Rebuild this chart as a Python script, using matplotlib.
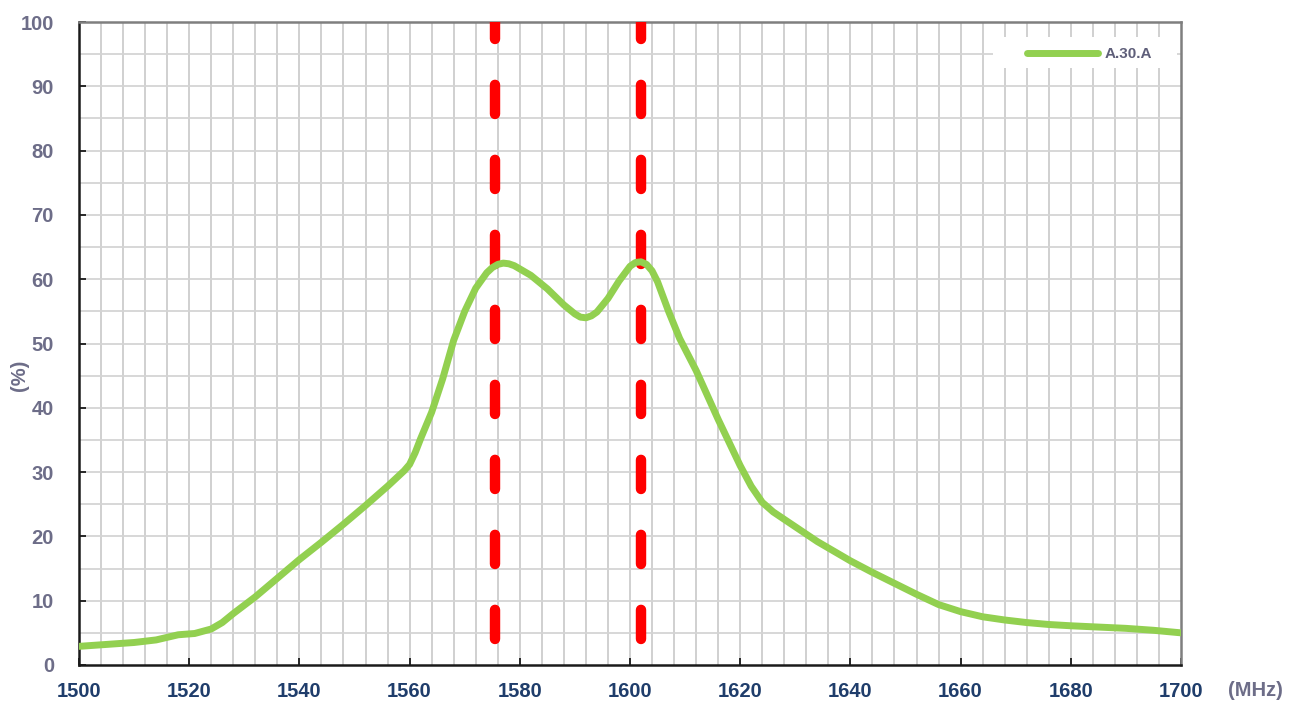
import matplotlib
matplotlib.use("Agg")
import matplotlib.pyplot as plt
from matplotlib.patches import Rectangle
import numpy as np

plt.rcParams['font.family'] = ['Liberation Sans', 'DejaVu Sans']
plt.rcParams['lines.scale_dashes'] = False

freq = [1500, 1505, 1510, 1514, 1518, 1521, 1524, 1526, 1528, 1532, 1536, 1540,
        1544, 1548, 1552, 1556, 1559, 1560, 1561, 1562, 1564, 1566, 1568, 1570,
        1572, 1574, 1575, 1576, 1577, 1578, 1579, 1580, 1582, 1585, 1588, 1590,
        1591, 1592, 1593, 1594, 1596, 1598, 1600, 1601, 1602, 1603, 1604, 1605,
        1607, 1609, 1612, 1616, 1620, 1622, 1624, 1626, 1630, 1634, 1640, 1644,
        1648, 1652, 1656, 1660, 1664, 1668, 1672, 1676, 1680, 1685, 1690, 1695,
        1700]
eff = [2.9, 3.2, 3.5, 3.9, 4.7, 4.9, 5.6, 6.6, 8.0, 10.6, 13.5, 16.4,
       19.1, 21.9, 24.8, 27.8, 30.2, 31.2, 33.0, 35.2, 39.3, 44.5, 50.5, 55.0,
       58.6, 61.0, 61.8, 62.3, 62.5, 62.4, 62.1, 61.6, 60.6, 58.5, 56.0, 54.6,
       54.1, 54.0, 54.3, 54.9, 57.0, 59.7, 62.0, 62.6, 62.7, 62.3, 61.3, 59.6,
       55.0, 50.8, 45.8, 38.2, 31.0, 27.8, 25.3, 23.8, 21.5, 19.2, 16.2, 14.4,
       12.7, 11.0, 9.4, 8.3, 7.5, 7.0, 6.6, 6.3, 6.1, 5.9, 5.7, 5.4,
       5.0]
series_name = "A.30.A"
markers_freq = [1575.42, 1602.0]
marker_y = [4, 100]
x_ticks = [1500, 1520, 1540, 1560, 1580, 1600, 1620, 1640, 1660, 1680, 1700]
y_ticks = [0, 10, 20, 30, 40, 50, 60, 70, 80, 90, 100]

W, H = 1300, 704
fig = plt.figure(figsize=(13, 7.04), dpi=100)
ax = fig.add_axes([79/W, 1-665/H, (1181-79)/W, (665-22)/H])
ax.set_xlim(1500, 1700)
ax.set_ylim(0, 100)

# grid
for gx in np.arange(1504, 1700, 4):
    ax.axvline(gx, color='#c4c4c4', lw=1.1, zorder=1)
for gy in np.arange(5, 100, 5):
    ax.axhline(gy, color='#d4d4d4', lw=1.3, zorder=1)

for mf in markers_freq:
    ax.plot([mf, mf], marker_y, color='#ff0000', lw=7.5, dashes=(21, 33),
            solid_capstyle='round', dash_capstyle='round', zorder=3)

ax.plot(freq, eff, color='#92d050', lw=5, solid_capstyle='round',
        solid_joinstyle='round', zorder=4, label=series_name)

for s in ['left', 'bottom']:
    ax.spines[s].set_color('#1a1a1a')
    ax.spines[s].set_linewidth(1.8)
for s in ['top', 'right']:
    ax.spines[s].set_color('#7f7f7f')
    ax.spines[s].set_linewidth(1.8)

ax.set_xticks(x_ticks)
ax.set_yticks(y_ticks)
ax.tick_params(axis='x', direction='in', length=5, width=1.3, color='#1a1a1a',
               pad=12, labelsize=14.5, labelcolor='#1f3d6b')
ax.tick_params(axis='y', direction='in', length=5, width=1.3, color='#1a1a1a',
               pad=18, labelsize=14.5, labelcolor='#6d6d88')
for lab in ax.get_xticklabels() + ax.get_yticklabels():
    lab.set_fontweight('bold')

fig.text(1255/W, 1-690/H, "(MHz)", ha='center', va='center', fontsize=14.5,
         fontweight='bold', color='#6d6d88')
fig.text(20/W, 1-375/H, "(%)", ha='center', va='center', fontsize=14.5,
         fontweight='bold', color='#6d6d88', rotation=90)

# legend background box
ax.add_patch(Rectangle((993/W, 1-68/H), (1177-993)/W, 31/H,
                       transform=fig.transFigure, facecolor='white',
                       edgecolor='none', zorder=2, clip_on=False))
leg = ax.legend(loc='center right',
                bbox_to_anchor=((1152-79)/(1181-79), (665-54.5)/(665-22)),
                frameon=False, fontsize=11, handlelength=4.6,
                handletextpad=0.45, borderpad=0, borderaxespad=0)
for t in leg.get_texts():
    t.set_fontweight('bold')
    t.set_color('#5f5f7a')
leg.set_zorder(5)

fig.savefig("out.png", dpi=100)
